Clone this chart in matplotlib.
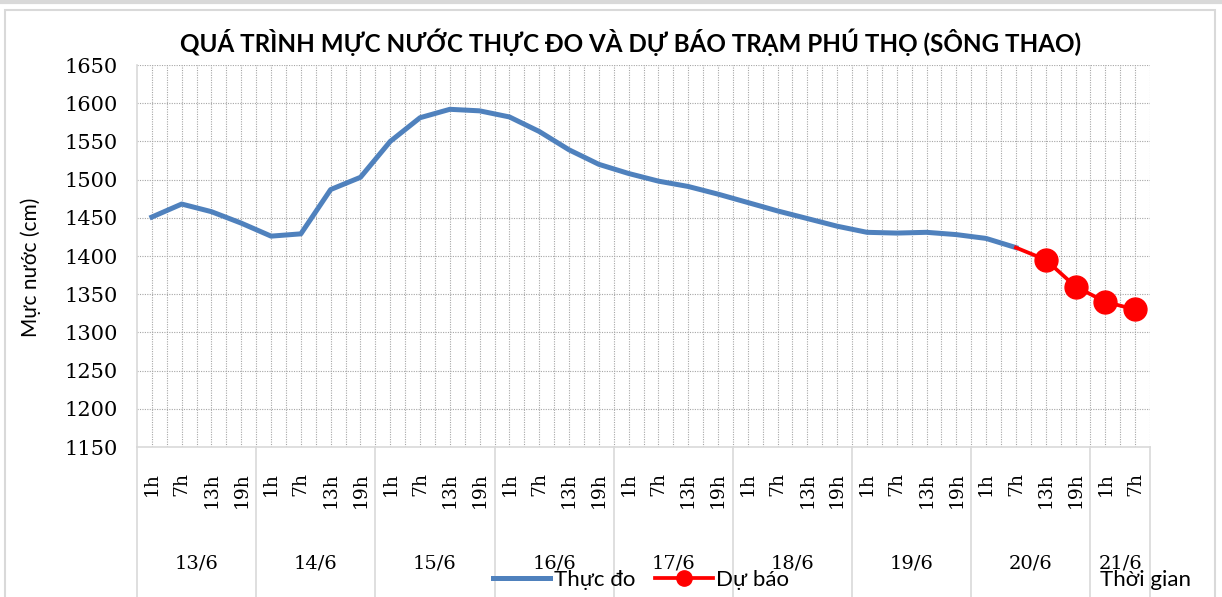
import matplotlib.pyplot as plt
from matplotlib.patches import Rectangle
from matplotlib.lines import Line2D
import matplotlib.transforms as mtransforms

# --- data ---
days = ['13/6', '14/6', '15/6', '16/6', '17/6', '18/6', '19/6', '20/6', '21/6']
hours_per_day = [4, 4, 4, 4, 4, 4, 4, 4, 2]
hour_names = ['1h', '7h', '13h', '19h']
hours = [h for n in hours_per_day for h in hour_names[:n]]

observed = [1451, 1468, 1458, 1443, 1426, 1429, 1487, 1503, 1550, 1581,
            1592, 1590, 1582, 1563, 1539, 1520, 1508, 1498, 1491, 1481,
            1470, 1459, 1449, 1439, 1431, 1430, 1431, 1428, 1423, 1411]
forecast_start = 29
forecast = [1411, 1395, 1360, 1340, 1330]

W, H = 1222, 597
fig = plt.figure(figsize=(W / 100, H / 100), dpi=100)
ax = fig.add_axes([137 / W, 1 - 447 / H, (1150 - 137) / W, (447 - 65) / H])

blue = '#4F81BD'
red = '#FF0000'
grid_c = '#A6A6A6'
sep_c = '#D9D9D9'
serif = 'DejaVu Serif'
sans = 'Lato'

n = len(hours)
x_obs = list(range(len(observed)))
x_fc = list(range(forecast_start, forecast_start + len(forecast)))

ax.plot(x_obs, observed, color=blue, lw=3.6, solid_joinstyle='round', zorder=3)
ax.plot(x_fc, forecast, color=red, lw=2.7, marker='o', markersize=16.5,
        markevery=list(range(1, len(forecast))), zorder=4)

ax.set_xlim(-0.5, n - 0.5)
ax.set_ylim(1150, 1650)
ax.set_yticks(range(1150, 1651, 50))

# dotted grid on every tick and half-category
for y in range(1200, 1651, 50):
    ax.axhline(y, color=grid_c, lw=0.8, ls=(0, (1, 1.2)), zorder=1)
for k in range(1, 2 * n + 1):
    ax.axvline(-0.5 + k * 0.5, color=grid_c, lw=0.8, ls=(0, (1, 1.2)), zorder=1)

for s in ['top', 'right']:
    ax.spines[s].set_visible(False)
for s in ['left', 'bottom']:
    ax.spines[s].set_color(sep_c)
    ax.spines[s].set_linewidth(1.2)

ax.set_xticks(range(n))
ax.set_xticklabels(hours, rotation=90, family=serif, fontsize=13.5)
ax.tick_params(axis='x', length=0, pad=18)
ax.tick_params(axis='y', length=0, pad=14, labelsize=15)
for lab in ax.get_yticklabels():
    lab.set_family(serif)

# day tier under the hour labels
trans = mtransforms.blended_transform_factory(ax.transData, ax.transAxes)
bottom = -(H - 447) / (447 - 65)
edges = [-0.5]
for cnt in hours_per_day:
    edges.append(edges[-1] + cnt)
for i, d in enumerate(days):
    ax.text((edges[i] + edges[i + 1]) / 2, -(563 - 447) / (447 - 65), d,
            transform=trans, ha='center', va='center', family=serif, fontsize=14)
for e in edges:
    ax.add_line(Line2D([e, e], [0, bottom], transform=trans, color=sep_c,
                       lw=1.2, clip_on=False, zorder=0))

fig.text(631 / W, 1 - 42 / H, 'QUÁ TRÌNH MỰC NƯỚC THỰC ĐO VÀ DỰ BÁO TRẠM PHÚ THỌ (SÔNG THAO)',
         ha='center', va='center', fontsize=17.4, fontweight='bold', family=sans)
fig.text(31 / W, 1 - 267 / H, 'Mực nước (cm)', rotation=90, ha='center', va='center',
         fontsize=15, family=sans)
fig.text(1100 / W, 1 - 580 / H, 'Thời gian', ha='left', va='center', fontsize=16, family=sans)

handles = [Line2D([], [], color=blue, lw=3.6),
           Line2D([], [], color=red, lw=2.7, marker='o', markersize=11)]
fig.legend(handles, ['Thực đo', 'Dự báo'], loc='center', bbox_to_anchor=(641 / W, 1 - 580 / H),
           ncol=2, frameon=False, prop={'family': sans, 'size': 16}, handlelength=2.6,
           handletextpad=0.15, columnspacing=0.9, borderpad=0, numpoints=1)

# chart area border
fig.add_artist(Rectangle((5 / W, -0.01), (1215 - 5) / W, 1 - 10 / H + 0.01, transform=fig.transFigure,
                         fill=False, edgecolor=sep_c, lw=1.5))
fig.add_artist(Line2D([0, 1], [1 - 1.5 / H, 1 - 1.5 / H], transform=fig.transFigure, color=sep_c, lw=3))

fig.savefig('out.png', dpi=100)
